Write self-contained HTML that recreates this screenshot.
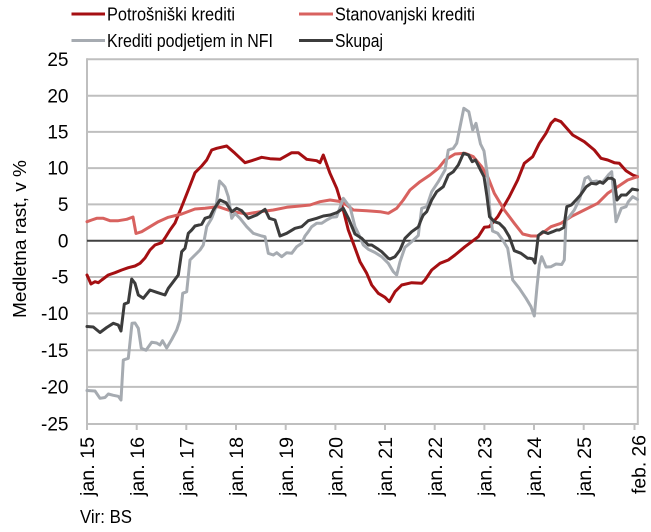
<!DOCTYPE html>
<html><head><meta charset="utf-8"><style>
html,body{margin:0;padding:0;background:#fff;}
svg{display:block;}
text{font-family:"Liberation Sans",Arial,sans-serif;fill:#000;}
</style></head><body>
<svg width="651" height="532" viewBox="0 0 651 532" xmlns="http://www.w3.org/2000/svg">
<!-- gridlines -->
<g stroke="#BFBFBF" stroke-width="2" fill="none">
<line x1="87" y1="59.3" x2="638" y2="59.3"/>
<line x1="87" y1="95.7" x2="638" y2="95.7"/>
<line x1="87" y1="131.9" x2="638" y2="131.9"/>
<line x1="87" y1="168.1" x2="638" y2="168.1"/>
<line x1="87" y1="204.4" x2="638" y2="204.4"/>
<line x1="87" y1="277" x2="638" y2="277"/>
<line x1="87" y1="313.4" x2="638" y2="313.4"/>
<line x1="87" y1="350.2" x2="638" y2="350.2"/>
<line x1="87" y1="386.9" x2="638" y2="386.9"/>
<line x1="87" y1="424" x2="638" y2="424"/>
<line x1="87" y1="58.3" x2="87" y2="425"/>
<line x1="637.8" y1="58.3" x2="637.8" y2="425"/>
<!-- ticks -->
<line x1="87" y1="424" x2="87" y2="430"/>
<line x1="136.7" y1="424" x2="136.7" y2="430"/>
<line x1="186.3" y1="424" x2="186.3" y2="430"/>
<line x1="236" y1="424" x2="236" y2="430"/>
<line x1="285.7" y1="424" x2="285.7" y2="430"/>
<line x1="335.4" y1="424" x2="335.4" y2="430"/>
<line x1="385" y1="424" x2="385" y2="430"/>
<line x1="434.7" y1="424" x2="434.7" y2="430"/>
<line x1="484.4" y1="424" x2="484.4" y2="430"/>
<line x1="534" y1="424" x2="534" y2="430"/>
<line x1="583.7" y1="424" x2="583.7" y2="430"/>
<line x1="634.5" y1="424" x2="634.5" y2="430"/>
</g>
<line x1="87" y1="240.7" x2="638" y2="240.7" stroke="#404040" stroke-width="2"/>

<g fill="none" stroke-width="3" stroke-linejoin="round" stroke-linecap="round">
<polyline stroke="#A50F12" points="87,275 91,284 95,281.7 98.3,282.7 101.7,280 108.3,275 115,272.7 121.7,270 128.3,267.7 135,266 140,263.3 145,258 150,250 155,245 161.7,242.7 165,238 170,230 175,223 181.7,206.7 188.3,190 195,172.7 201.7,166 206.7,160 211.7,150 216.7,148.3 226.7,146 235,153.3 245,162.7 251.7,160.7 261.7,157.3 270,158.7 280,159.3 291.7,152.7 298.3,152.7 306.7,159.3 316.7,160.7 320,162.7 323.3,155 330,173.3 336.7,188.3 343.3,210 348.3,230 353.3,243.3 360,261.7 366.7,273.3 371.7,285 378.3,293.3 385,297.3 389.3,301.7 395,291.7 401.7,285 411.7,282.7 421.7,283.3 425,280 431.7,270 440,263.3 448.3,260 455,255 465,246.7 471.7,241.7 478.3,236.7 484.3,227.3 489.3,226.7 497.7,216.7 509.3,196.7 517.7,180 524.3,163.3 532.7,156.7 539.3,143.3 546,133.3 551,123.3 555,119.3 561,121.7 572.7,135 584.3,141.7 594.3,150 601,158.3 607.7,160 614.3,162.7 619.3,163.3 626,170.7 632.7,175 637.5,176.7"/>
<polyline stroke="#D8625F" points="87,221.7 91.7,220 96.7,218.3 103.3,218.3 110,220.7 118.3,220.7 126.7,219.3 133,217 136,233.5 141.7,231.7 150,226.7 158.3,221.7 168.3,217.3 181.7,214 195,209 205,208.3 213.3,207.3 218.3,206.7 225,209 233.3,211.7 246.7,214 260,211.7 273.3,210 286.7,207.3 300,206 310,205 320,201.7 330,200 340,201.5 346.7,205 353.3,210 366.7,210.7 380,211.7 388.3,213.3 396.7,208.3 403.3,200 410,190 420,181.7 430,175 438.3,168.3 445,160 455,154 465,153.3 473.3,156.7 481.7,166.7 488.3,178 494.3,193.3 504.3,210 514.3,223.3 522.7,234 531,236 537.7,236 544.3,231.7 551,226.7 561,223.3 571,216.7 584.3,210 597.7,203.3 607.7,193.3 617.7,186.7 627.7,180 637.5,176.7"/>
<polyline stroke="#A6ABB1" points="87,390.5 95,391 100,398.3 105,397.5 108.3,394 113.3,395.3 118.3,396.3 121,400 123.3,360 128.3,358.3 132,323.3 135,323 138.3,328.3 141.3,348.3 146,350.3 151.7,342.2 156.7,343 160,345 162.5,340.7 166.7,348 171.7,339.5 176.7,330 180,320 182.7,293.3 186.7,291.7 190,260 195,255 200,250 203.3,245 206.7,226.7 211.7,218.3 216,206.7 219.5,181 223.3,185 225,187 228.3,196.7 231.7,218.3 235,213.3 240,218.3 246.7,226.7 253.3,233.3 261.7,236 265,236.7 268.3,253.3 273.3,255 276.7,252.7 281.7,256.7 286.7,252.7 291.7,253.3 296.7,246.7 301.7,243.3 305,236 308.3,231.7 311.7,226.7 316.7,223.3 321.7,223.3 326.7,220 331.7,217.3 336.7,216.7 343.3,198.3 348.3,205 350,206.7 355,226.7 358.3,233.3 363.3,245 368.3,249.3 375,252.5 381.7,256.7 388.3,263.3 393.3,271.7 396.7,275 400,261.7 405,247.3 411.7,241.7 418.3,235.5 421.7,208.3 426.7,206.7 431.7,191.7 438.3,181.7 445,170 448.3,150 453.3,148.3 456.7,143.3 463.8,108.3 468.8,111.7 472.7,130 476,123.3 480.5,144 484,151 487.7,177 489.5,207 492.5,231 497.7,233.3 502.7,240 507.7,248.3 512.7,280 519.3,288.3 526,298.3 531,306.7 534.3,316 537,286.7 539.3,265 541.7,256.7 546,267 551,266.7 556,264 561.7,264.5 564.3,260 566,220 569.3,216.7 574.3,210 579.7,199 585,178.3 588.3,176.7 591.7,182 596.7,181 601.7,183 604.3,180 608.3,175 611.7,171.7 616,221.7 621.3,208.3 626,206.7 628.3,201.7 632.7,196.7 637.5,199.5"/>
<polyline stroke="#3C3C3C" points="87,326.5 93.3,327 100,332.5 106.7,327.5 113.3,323.3 118.3,325 121,331 124.3,304 128.3,302.5 131.7,279 135,283.3 138.3,295 143.3,298.3 150,290 156.7,292.3 165,295 168.3,288.3 173.3,281.7 178.3,275 181.7,251.7 185,248.3 188.3,233.3 191.7,230 195,226 201.7,224.3 205,218.3 210,216.7 213.3,210 216.7,205 220,200 226,202.7 231.7,211.7 236.7,208.3 241.7,210.7 248.3,218.3 256.7,215 265,209.3 269.3,218.3 275,220 280,236 286.7,233.3 295,228.3 301.7,226.7 308.3,220.7 316.7,218.3 323.3,216 330,215 336.7,212.7 343.3,208.3 348.3,218 355,234 361.7,238.3 368.3,245 371.7,245 378.3,249.3 381.7,251.7 385,255 388.3,258.3 390,259 395,256.7 400,250 405,238.3 411.7,231.7 418.3,227 421.7,218.3 423.3,215 426.7,211.7 431.7,200 436.7,191.7 443.3,186.7 448.3,175 453.3,171.7 458.3,165 463.5,153.3 468.5,155 472.2,161.7 475.5,160 480.5,170 484,176.7 487,196.7 489.5,216.7 494.5,221.7 499.3,223.3 504.3,228.3 509.3,236.7 514.3,250.7 521,253.3 527.7,258.3 530,258.3 532.7,259 535,263 538.3,235.5 543,231.7 548,233.5 552.7,231.7 556.7,230 559.3,230 563.8,227.5 566.8,206.7 571.3,205 576,200 580.5,195 586.3,186.7 591.3,183.3 596.3,184 600,181.7 603,183.3 608,178.3 611.7,178.3 614.3,180 617,200 621.3,195 626.3,195 632.2,189 637.5,190"/>
</g>

<!-- legend -->
<g stroke-width="3">
<line x1="71.5" y1="14" x2="105" y2="14" stroke="#A50F12"/>
<line x1="299" y1="14" x2="333" y2="14" stroke="#D8625F"/>
<line x1="71.5" y1="40.5" x2="105" y2="40.5" stroke="#A6ABB1"/>
<line x1="299" y1="40.5" x2="333" y2="40.5" stroke="#3C3C3C"/>
</g>
<g font-size="18">
<text x="107" y="20.5" textLength="128" lengthAdjust="spacingAndGlyphs">Potrošniški krediti</text>
<text x="335" y="20.5" textLength="140" lengthAdjust="spacingAndGlyphs">Stanovanjski krediti</text>
<text x="107" y="47" textLength="166" lengthAdjust="spacingAndGlyphs">Krediti podjetjem in NFI</text>
<text x="335" y="47" textLength="48" lengthAdjust="spacingAndGlyphs">Skupaj</text>
</g>

<!-- y tick labels -->
<g font-size="19" text-anchor="end">
<text x="68.5" y="66">25</text>
<text x="68.5" y="102.3">20</text>
<text x="68.5" y="138.5">15</text>
<text x="68.5" y="174.7">10</text>
<text x="68.5" y="211">5</text>
<text x="68.5" y="247.3">0</text>
<text x="68.5" y="283.6">-5</text>
<text x="68.5" y="320">-10</text>
<text x="68.5" y="356.8">-15</text>
<text x="68.5" y="393.5">-20</text>
<text x="68.5" y="430.6">-25</text>
</g>

<!-- y axis title -->
<text transform="translate(26,239) rotate(-90)" font-size="18" text-anchor="middle" textLength="158" lengthAdjust="spacingAndGlyphs">Medletna rast, v %</text>

<!-- x tick labels -->
<g font-size="19" text-anchor="end">
<text transform="translate(94.2,437) rotate(-90)" textLength="59" lengthAdjust="spacingAndGlyphs">jan. 15</text>
<text transform="translate(143.9,437) rotate(-90)" textLength="59" lengthAdjust="spacingAndGlyphs">jan. 16</text>
<text transform="translate(193.5,437) rotate(-90)" textLength="59" lengthAdjust="spacingAndGlyphs">jan. 17</text>
<text transform="translate(243.2,437) rotate(-90)" textLength="59" lengthAdjust="spacingAndGlyphs">jan. 18</text>
<text transform="translate(292.9,437) rotate(-90)" textLength="59" lengthAdjust="spacingAndGlyphs">jan. 19</text>
<text transform="translate(342.6,437) rotate(-90)" textLength="59" lengthAdjust="spacingAndGlyphs">jan. 20</text>
<text transform="translate(392.2,437) rotate(-90)" textLength="59" lengthAdjust="spacingAndGlyphs">jan. 21</text>
<text transform="translate(441.9,437) rotate(-90)" textLength="59" lengthAdjust="spacingAndGlyphs">jan. 22</text>
<text transform="translate(491.6,437) rotate(-90)" textLength="59" lengthAdjust="spacingAndGlyphs">jan. 23</text>
<text transform="translate(541.2,437) rotate(-90)" textLength="59" lengthAdjust="spacingAndGlyphs">jan. 24</text>
<text transform="translate(590.9,437) rotate(-90)" textLength="59" lengthAdjust="spacingAndGlyphs">jan. 25</text>
<text transform="translate(645.5,435) rotate(-90)" textLength="59" lengthAdjust="spacingAndGlyphs">feb. 26</text>
</g>

<text x="80" y="523" font-size="18" textLength="52" lengthAdjust="spacingAndGlyphs">Vir: BS</text>
</svg>
</body></html>
